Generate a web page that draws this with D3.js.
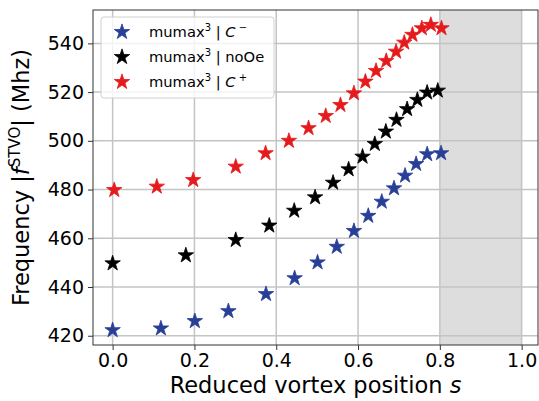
<!DOCTYPE html>
<html>
<head>
<meta charset="utf-8">
<script src="https://cdn.jsdelivr.net/npm/d3@7"></script>
<style>
  body { margin: 0; background: #fff; }
  svg { display: block; font-family: "DejaVu Sans", sans-serif; }
</style>
</head>
<body>
<svg id="chart" width="539" height="401"></svg>
<script>
// reduced vortex position s and frequency (MHz) per series
const sMinus = [0.0, 0.118, 0.201, 0.283, 0.375, 0.445, 0.501, 0.548, 0.590, 0.625, 0.658, 0.688, 0.715, 0.742, 0.769, 0.803];
const fMinus = [422.3, 423.0, 426.0, 430.1, 437.1, 443.6, 450.1, 456.5, 463.0, 469.2, 475.0, 480.5, 485.7, 490.5, 494.5, 494.9];

const sNoOe = [0.0, 0.179, 0.301, 0.383, 0.444, 0.495, 0.539, 0.577, 0.611, 0.641, 0.668, 0.694, 0.720, 0.745, 0.769, 0.795];
const fNoOe = [449.7, 453.0, 459.3, 465.2, 471.3, 476.8, 482.8, 488.3, 493.5, 498.7, 503.8, 508.6, 513.0, 516.8, 519.8, 520.6];

const sPlus = [0.004, 0.108, 0.197, 0.301, 0.374, 0.431, 0.479, 0.521, 0.557, 0.590, 0.618, 0.644, 0.669, 0.693, 0.713, 0.733, 0.756, 0.778, 0.804];
const fPlus = [479.8, 481.2, 483.9, 489.4, 494.9, 500.0, 505.2, 510.2, 514.7, 519.5, 524.3, 528.7, 532.8, 536.6, 540.3, 543.5, 546.2, 547.6, 546.2];

const xTicks = [0.0, 0.2, 0.4, 0.6, 0.8, 1.0];
const yTicks = [420, 440, 460, 480, 500, 520, 540];
const shadedRange = [0.8, 1.0];

const series = [
  { name: "minus", color: "#283f97", s: sMinus, f: fMinus },
  { name: "noOe", color: "#000000", s: sNoOe, f: fNoOe },
  { name: "plus", color: "#e41a1c", s: sPlus, f: fPlus }
];

const margin = { top: 10, right: 1, bottom: 56, left: 93 };
const width = 539, height = 401;

const svg = d3.select("#chart");

const x = d3.scaleLinear()
  .domain([-0.048, 1.04])
  .range([margin.left, width - margin.right]);

const y = d3.scaleLinear()
  .domain([416.2, 553.7])
  .range([height - margin.bottom, margin.top]);

// shaded region
svg.append("rect")
  .attr("x", x(shadedRange[0]))
  .attr("y", margin.top)
  .attr("width", x(shadedRange[1]) - x(shadedRange[0]))
  .attr("height", y.range()[0] - margin.top)
  .attr("fill", "#dddddd");

// grid
const grid = svg.append("g").attr("stroke", "#c4c4c4").attr("stroke-width", 1.5);
grid.selectAll("line.gx").data(xTicks).join("line")
  .attr("x1", d => x(d)).attr("x2", d => x(d))
  .attr("y1", margin.top).attr("y2", height - margin.bottom);
grid.selectAll("line.gy").data(yTicks).join("line")
  .attr("y1", d => y(d)).attr("y2", d => y(d))
  .attr("x1", margin.left).attr("x2", width - margin.right);

// axes
svg.append("g")
  .attr("transform", `translate(0,${height - margin.bottom})`)
  .call(d3.axisBottom(x).tickValues(xTicks).tickFormat(d3.format(".1f")).tickSize(5).tickPadding(4))
  .call(g => g.select(".domain").remove())
  .call(g => g.selectAll("text").attr("font-size", 19).attr("fill", "#000").attr("font-family", "DejaVu Sans"))
  .call(g => g.selectAll(".tick line").attr("stroke", "#333"));

svg.append("g")
  .attr("transform", `translate(${margin.left},0)`)
  .call(d3.axisLeft(y).tickValues(yTicks).tickSize(5).tickPadding(4))
  .call(g => g.select(".domain").remove())
  .call(g => g.selectAll("text").attr("font-size", 19).attr("fill", "#000").attr("font-family", "DejaVu Sans"))
  .call(g => g.selectAll(".tick line").attr("stroke", "#333"));

// frame
svg.append("rect")
  .attr("x", margin.left).attr("y", margin.top)
  .attr("width", width - margin.right - margin.left)
  .attr("height", height - margin.bottom - margin.top)
  .attr("fill", "none").attr("stroke", "#333").attr("stroke-width", 1);

// points
const star = d3.symbol().type(d3.symbolStar).size(74);
series.forEach(sr => {
  svg.append("g")
    .selectAll("path")
    .data(sr.s.map((s, i) => ({ s: s, f: sr.f[i] })))
    .join("path")
    .attr("d", star)
    .attr("transform", d => `translate(${x(d.s)},${y(d.f)})`)
    .attr("fill", sr.color)
    .attr("stroke", sr.color)
    .attr("stroke-width", 0.8);
});

// axis labels
svg.append("text")
  .attr("x", (margin.left + width - margin.right) / 2)
  .attr("y", 393)
  .attr("text-anchor", "middle")
  .attr("font-size", 22.5)
  .html('Reduced vortex position <tspan font-style="italic">s</tspan>');

svg.append("text")
  .attr("transform", `translate(29,${(margin.top + height - margin.bottom) / 2}) rotate(-90)`)
  .attr("text-anchor", "middle")
  .attr("font-size", 22.5)
  .html('Frequency |<tspan font-style="italic">f</tspan><tspan font-size="15" dy="-9">STVO</tspan><tspan dy="9">| (Mhz)</tspan>');

// legend
const legend = svg.append("g");
legend.append("rect")
  .attr("x", 101).attr("y", 17).attr("width", 173).attr("height", 81)
  .attr("rx", 3)
  .attr("fill", "#fff").attr("fill-opacity", 0.8)
  .attr("stroke", "#d0d0d0");

const legendLabels = [
  'mumax<tspan font-size="10" dy="-6">3</tspan><tspan dy="6"> | </tspan><tspan font-style="italic">C</tspan><tspan font-size="10" dy="-6"> \u2212</tspan>',
  'mumax<tspan font-size="10" dy="-6">3</tspan><tspan dy="6"> | noOe</tspan>',
  'mumax<tspan font-size="10" dy="-6">3</tspan><tspan dy="6"> | </tspan><tspan font-style="italic">C</tspan><tspan font-size="10" dy="-6"> +</tspan>'
];

series.forEach((sr, i) => {
  const cy = 32 + i * 25;
  legend.append("path")
    .attr("d", star)
    .attr("transform", `translate(122,${cy})`)
    .attr("fill", sr.color).attr("stroke", sr.color).attr("stroke-width", 0.8);
  legend.append("text")
    .attr("x", 149).attr("y", cy + 5)
    .attr("font-size", 14.7)
    .html(legendLabels[i]);
});
</script>
</body>
</html>
